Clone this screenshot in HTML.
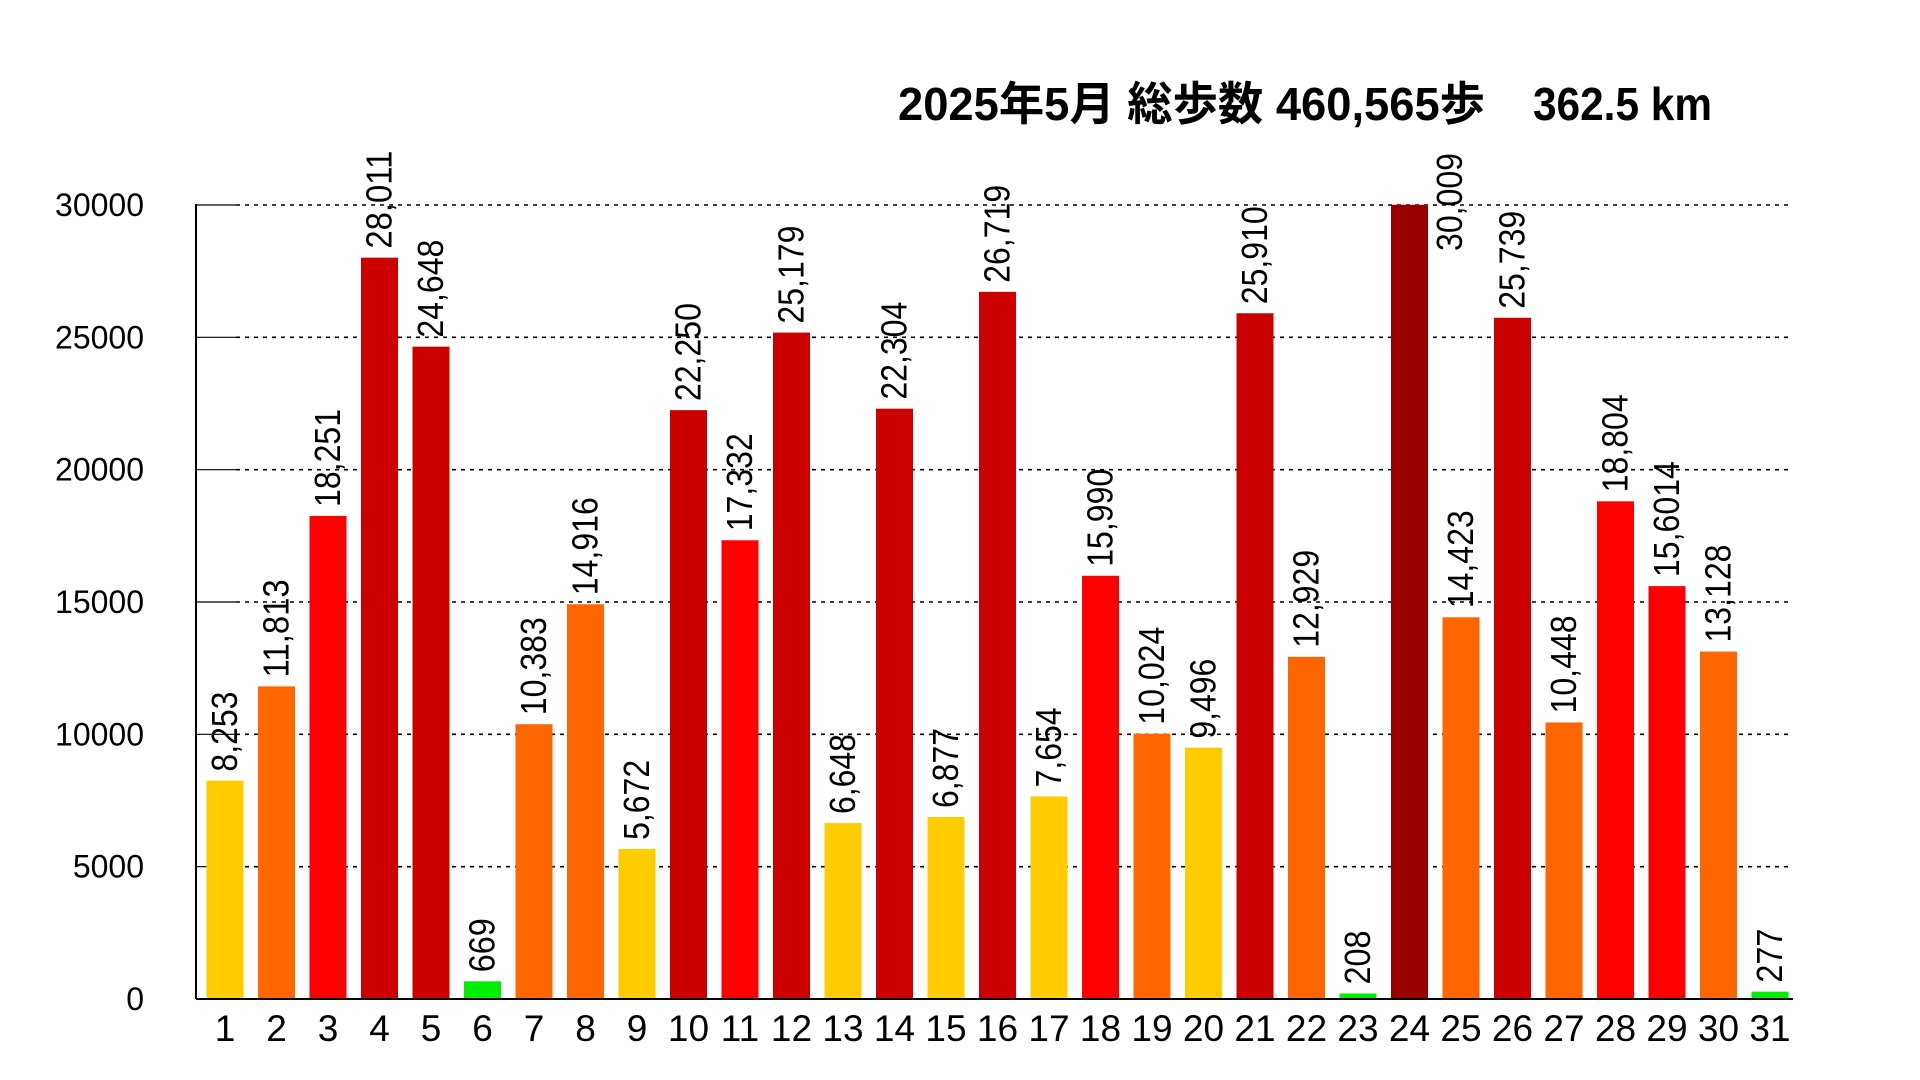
<!DOCTYPE html>
<html><head><meta charset="utf-8"><style>html,body{margin:0;padding:0;background:#fff}svg{display:block}</style></head>
<body>
<svg id="c" width="1920" height="1080" xmlns="http://www.w3.org/2000/svg"></svg>
<script>
const vals=[8253,11813,18251,28011,24648,669,10383,14916,5672,22250,17332,25179,6648,22304,6877,26719,7654,15990,10024,9496,25910,12929,208,30009,14423,25739,10448,18804,15601,13128,277];
const labels=vals.map(v=>v.toLocaleString('en-US'));labels[28]='15,6014';
function col(v){if(v<1000)return'#00ee00';if(v<10000)return'#ffcc00';if(v<15000)return'#ff6600';if(v<20000)return'#ff0000';if(v<30000)return'#cc0000';return'#990000';}
const y0=999,y30=205,sc=(y0-y30)/30000,x0=196,x1=1793;
const F='font-family="Liberation Sans Narrow, Liberation Sans, sans-serif"';
let s='';
for(let i=0;i<=6;i++){const v=i*5000,y=y0-v*sc;
 if(i>0){s+=`<line x1="${x0}" y1="${y}" x2="${x0+40}" y2="${y}" stroke="#000" stroke-width="1.2"/>`;
 s+=`<line x1="${x0+40}" y1="${y}" x2="${x1}" y2="${y}" stroke="#000" stroke-width="1.6" stroke-dasharray="4,5"/>`;}
 s+=`<text x="144" y="${y+11}" text-anchor="end" font-family="Liberation Sans, sans-serif" font-size="32">${v}</text>`;}
vals.forEach((v,i)=>{const cx=225+i*51.5,h=v*sc,top=y0-h;
 const tl=labels[i].replace(/,/g,'').length*18+(labels[i].includes(',')?8:0);
 s+=`<rect x="${cx-18.5}" y="${top}" width="37" height="${h}" fill="${col(v)}"/>`;
 s+=`<text x="${cx}" y="1041" text-anchor="middle" ${F} font-size="37">${i+1}</text>`;
 if(i===23){s+=`<text transform="translate(1462,251) rotate(-90)" ${F} font-size="36" textLength="${tl}" lengthAdjust="spacingAndGlyphs">${labels[i]}</text>`;}
 else{s+=`<text transform="translate(${cx+12},${top-9}) rotate(-90)" ${F} font-size="36" textLength="${tl}" lengthAdjust="spacingAndGlyphs">${labels[i]}</text>`;}
});
s+=`<line x1="${x0}" y1="${y30-1}" x2="${x0}" y2="${y0}" stroke="#000" stroke-width="2"/>`;
s+=`<line x1="${x0}" y1="${y0}" x2="${x1}" y2="${y0}" stroke="#000" stroke-width="2"/>`;
s+=`<text x="898" y="120" font-family="Liberation Sans Narrow, Liberation Sans, Noto Sans CJK JP, sans-serif" font-size="46" font-weight="bold" textLength="587" lengthAdjust="spacingAndGlyphs">2025年5月 総歩数 460,565歩</text>`;
s+=`<text x="1533" y="120" font-family="Liberation Sans Narrow, Liberation Sans, sans-serif" font-size="46" font-weight="bold" textLength="179" lengthAdjust="spacingAndGlyphs">362.5 km</text>`;
document.getElementById('c').innerHTML=s;
</script>
</body></html>
